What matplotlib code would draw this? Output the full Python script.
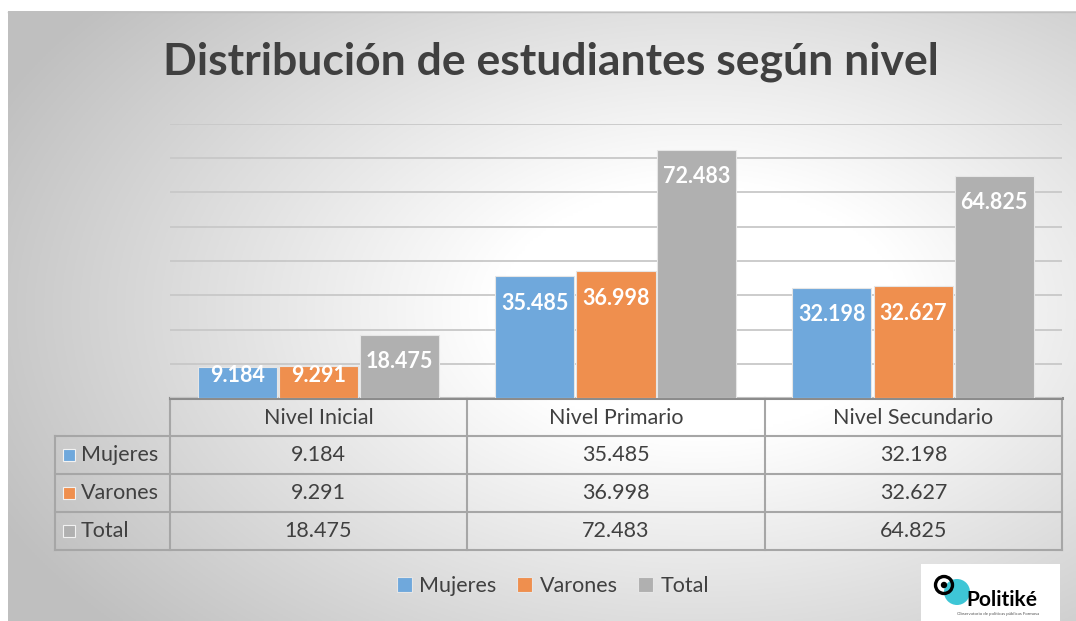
import numpy as np
import matplotlib.pyplot as plt
from matplotlib.patches import Rectangle, Circle

plt.rcParams['font.family'] = ['Lato', 'DejaVu Sans']

# datos
niveles = ['Nivel Inicial', 'Nivel Primario', 'Nivel Secundario']
series = ['Mujeres', 'Varones', 'Total']
mujeres = [9184, 35485, 32198]
varones = [9291, 36998, 32627]
total = [18475, 72483, 64825]
colores = ['#6FA8DC', '#EF8F4E', '#B0B0B0']
titulo = 'Distribución de estudiantes según nivel'

valores = [mujeres, varones, total]
texto = '#404040'

def fmt(v):
    # separador de miles con punto
    return f'{v:,}'.replace(',', '.')

W, H = 1076, 621
fig = plt.figure(figsize=(W / 100, H / 100), dpi=100)
fig.patch.set_facecolor('white')

# fondo con degradado radial
bg = fig.add_axes([0, 0, 1, 1])
bg.set_xlim(0, W)
bg.set_ylim(H, 0)
bg.axis('off')
xx, yy = np.meshgrid(np.linspace(8, W, 400), np.linspace(11, H, 240))
d = np.sqrt(((xx - 700) / 680) ** 2 + ((yy - 310) / 420) ** 2)
g = 1 - 0.25 * np.clip((d - 0.3) / 0.85, 0, 1)
bg.imshow(np.dstack([g, g, g]), extent=(8, W, H, 11), aspect='auto', zorder=0)
bg.plot([8, W], [11.5, 11.5], color='#bfbfbf', lw=1, zorder=1)

bg.text(551, 62, titulo, ha='center', va='center', fontsize=32,
        fontweight='bold', color=texto)

# grafico de barras
x0, x1, ytop, ybase = 170, 1062, 124, 398
ax = fig.add_axes([x0 / W, (H - ybase) / H, (x1 - x0) / W, (ybase - ytop) / H])
ax.patch.set_alpha(0)
ax.set_xlim(-0.5, 2.5)
ax.set_ylim(0, 80)
ax.set_yticks(np.arange(0, 81, 10))
ax.set_xticks([])
ax.tick_params(length=0, labelleft=False)
ax.yaxis.grid(True, color='#c8c8c8', lw=1.3)
ax.set_axisbelow(True)
for s in ax.spines.values():
    s.set_visible(False)

px_unidad = (ybase - ytop) / 80
pos = np.arange(len(niveles))
ancho = 0.266
desp = [-0.274, 0, 0.272]
for i, serie in enumerate(series):
    vals = np.array(valores[i]) / 1000
    ax.bar(pos + desp[i], vals, ancho, color=colores[i], edgecolor='#e6e6e6',
           lw=0.8, label=serie, zorder=2)
    for p, v, raw in zip(pos, vals, valores[i]):
        ylab = max(v - 27 / px_unidad, 23 / px_unidad)
        ax.text(p + desp[i], ylab, fmt(raw), ha='center', va='center',
                fontsize=15.5, fontweight='bold', color='white', zorder=3)

# tabla de datos
cols = [170, 467, 765, 1062]
filas = [398, 436, 474, 512, 550]
lc = '#a6a6a6'
for yv in filas[1:]:
    bg.plot([55, 1062], [yv, yv], color=lc, lw=1.5, zorder=2)
for xv in cols:
    bg.plot([xv, xv], [398, 550], color=lc, lw=1.5, zorder=2)
bg.plot([55, 55], [436, 550], color=lc, lw=1.5, zorder=2)
bg.plot([170, 1062], [398, 398], color='#8c8c8c', lw=2.2, zorder=3)

for j, nivel in enumerate(niveles):
    cx = (cols[j] + cols[j + 1]) / 2
    bg.text(cx, 418, nivel, ha='center', va='center', fontsize=15.5, color=texto)
    for i in range(len(series)):
        cy = (filas[i + 1] + filas[i + 2]) / 2
        bg.text(cx, cy, fmt(valores[i][j]), ha='center', va='center',
                fontsize=15.5, color=texto)

for i, serie in enumerate(series):
    cy = (filas[i + 1] + filas[i + 2]) / 2
    bg.add_patch(Rectangle((63, cy - 6.5), 12, 12, facecolor=colores[i],
                           edgecolor='#f2f2f2', lw=0.8, zorder=3))
    bg.text(81, cy, serie, ha='left', va='center', fontsize=15.5, color=texto)

# leyenda
fig.legend(loc='center', bbox_to_anchor=(553 / W, 1 - 586 / H), ncol=3,
           frameon=False, fontsize=15.5, handlelength=0.7, handleheight=0.7,
           handletextpad=0.35, columnspacing=0.95, labelcolor=texto)

# logo
bg.add_patch(Rectangle((921, 564), 139, 57, facecolor='white', edgecolor='none', zorder=4))
bg.add_patch(Circle((957, 592), 13, facecolor='#3ec6d6', edgecolor='none', zorder=5))
bg.add_patch(Circle((944, 585), 8.5, facecolor='none', edgecolor='black', lw=2.4, zorder=6))
bg.add_patch(Circle((944, 585), 3.2, facecolor='black', edgecolor='none', zorder=6))
bg.text(1002, 600, 'Politiké', ha='center', va='center', fontsize=15,
        fontweight='bold', color='black', zorder=7)
bg.text(998, 614, 'Observatorio de políticas públicas Formosa', ha='center',
        va='center', fontsize=3.2, color='#555555', zorder=7)

fig.savefig('out.png', dpi=100)
